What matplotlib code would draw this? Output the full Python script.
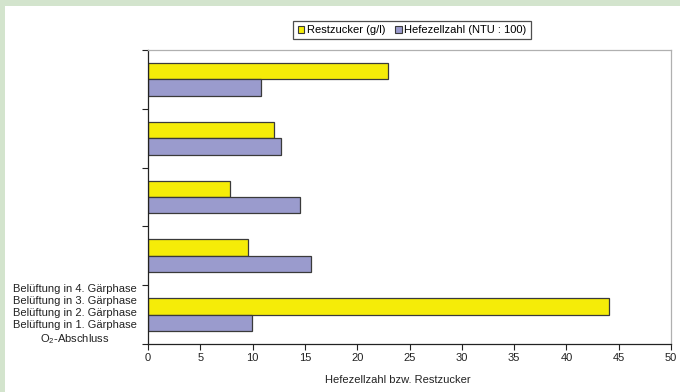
import matplotlib
matplotlib.use("Agg")
import matplotlib.pyplot as plt
from matplotlib.patches import Rectangle
import numpy as np

plt.rcParams['font.family'] = ['Liberation Sans', 'DejaVu Sans']
plt.rcParams['mathtext.fontset'] = 'custom'
plt.rcParams['mathtext.rm'] = 'Liberation Sans'

# Categories from bottom to top
categories = ["O$_2$-Abschluss", "Belüftung in 1. Gärphase", "Belüftung in 2. Gärphase",
              "Belüftung in 3. Gärphase", "Belüftung in 4. Gärphase"]
restzucker = [44.1, 9.6, 7.8, 12.0, 22.9]
hefezellzahl = [9.9, 15.6, 14.5, 12.7, 10.8]
series_names = ["Restzucker (g/l)", "Hefezellzahl (NTU : 100)"]
x_ticks = [0, 5, 10, 15, 20, 25, 30, 35, 40, 45, 50]
x_label = "Hefezellzahl bzw. Restzucker"

W, H = 680, 392
FS = 8
fig = plt.figure(figsize=(W / 100, H / 100), dpi=100)
fig.patch.set_facecolor("white")

# green frame along the top and left edge
green = "#d3e4cd"
fig.add_artist(Rectangle((0, 1 - 6 / H), 1, 6 / H, transform=fig.transFigure,
                         facecolor=green, edgecolor="none"))
fig.add_artist(Rectangle((0, 0), 5 / W, 1, transform=fig.transFigure,
                         facecolor=green, edgecolor="none"))

ax = fig.add_axes([148 / W, (H - 344) / H, (671 - 148) / W, (344 - 50) / H])

y = np.arange(len(categories))
bh = 0.28
yellow = "#f5ec08"
purple = "#9a9bcd"
edge = "#3a3a3a"
ax.barh(y + bh / 2, restzucker, height=bh, color=yellow, edgecolor=edge,
        linewidth=0.9, label=series_names[0])
ax.barh(y - bh / 2, hefezellzahl, height=bh, color=purple, edgecolor=edge,
        linewidth=0.9, label=series_names[1])

ax.set_xlim(0, 50)
ax.set_ylim(-0.5, len(categories) - 0.5)
ax.set_xticks(x_ticks)
ax.set_xticklabels([str(t) for t in x_ticks], fontsize=FS, color="#222222")
ax.set_yticks(np.arange(len(categories) + 1) - 0.5)
ax.set_yticklabels([])
ax.tick_params(axis="both", direction="out", length=4, width=0.8, color="#222222", pad=2.5)

for side in ("left", "bottom"):
    ax.spines[side].set_color("#222222")
    ax.spines[side].set_linewidth(0.9)
for side in ("top", "right"):
    ax.spines[side].set_color("#b0b0b0")
    ax.spines[side].set_linewidth(0.9)

# category labels stacked at the lower left
fig.text(137 / W, 1 - 315 / H, "\n".join(categories[::-1]), ha="right", va="center",
         multialignment="center", fontsize=FS, color="#222222", linespacing=1.22)

fig.text(398 / W, 1 - 380 / H, x_label, ha="center", va="center",
         fontsize=FS, color="#222222")

handles = [Rectangle((0, 0), 1, 1, facecolor=yellow, edgecolor=edge, linewidth=0.8),
           Rectangle((0, 0), 1, 1, facecolor=purple, edgecolor=edge, linewidth=0.8)]
leg = fig.legend(handles, series_names, loc="center", bbox_to_anchor=(412 / W, 1 - 30 / H),
                 ncol=2, fontsize=FS, frameon=True, fancybox=False,
                 handlelength=0.6, handleheight=0.6, handletextpad=0.2,
                 columnspacing=0.9, borderpad=0.4, borderaxespad=0.0,
                 edgecolor="#222222")
leg.get_frame().set_linewidth(0.9)

fig.savefig("out.png", dpi=100)
